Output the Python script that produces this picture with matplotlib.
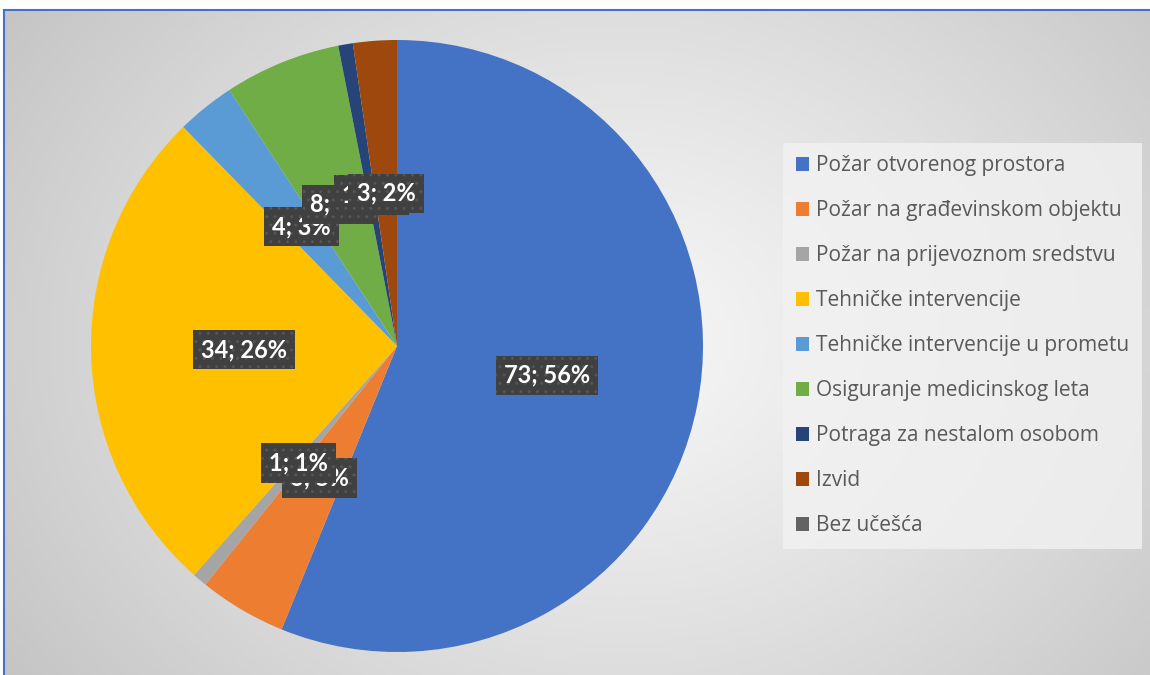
import numpy as np
import matplotlib
matplotlib.use("Agg")
import matplotlib.pyplot as plt
from matplotlib.patches import Patch
from matplotlib.lines import Line2D

categories = ["Požar otvorenog prostora", "Požar na građevinskom objektu",
              "Požar na prijevoznom sredstvu", "Tehničke intervencije",
              "Tehničke intervencije u prometu", "Osiguranje medicinskog leta",
              "Potraga za nestalom osobom", "Izvid", "Bez učešća"]
values = [73, 6, 1, 34, 4, 8, 1, 3, 0]
colors = ["#4472C4", "#ED7D31", "#A5A5A5", "#FFC000", "#5B9BD5",
          "#70AD47", "#264478", "#9E480E", "#636363"]

plt.rcParams['font.family'] = ['Lato', 'DejaVu Sans']

W, H = 1150, 675
fig = plt.figure(figsize=(W/100, H/100), dpi=100)
fig.patch.set_facecolor("white")

# background radial gradient
bg = fig.add_axes([4/W, 0, 1 - 4/W, (H - 10)/H])
bg.set_axis_off()
nx, ny = 300, 180
xs = np.linspace(4, W, nx)
ys = np.linspace(10, H, ny)
X, Y = np.meshgrid(xs, ys)
cx, cy = 620, 340
d = np.sqrt(((X - cx)/600)**2 + ((Y - cy)/480)**2)
d = np.clip(d, 0, 1.3)
val = 0.965 - 0.15*d**1.2
img = np.dstack([val, val, val])
bg.imshow(img, extent=[0, 1, 0, 1], aspect='auto', origin='upper')
bg.set_xlim(0, 1); bg.set_ylim(0, 1)

# border lines (top and left)
fig.add_artist(Line2D([4/W, 1], [1 - 10/H, 1 - 10/H], color="#4472C4", lw=1.5))
fig.add_artist(Line2D([4/W, 4/W], [0, 1 - 10/H], color="#4472C4", lw=1.5))

# pie
pcx, pcy, R = 397, 346, 306
ax = fig.add_axes([(pcx - R)/W, (H - pcy - R)/H, 2*R/W, 2*R/H])
ax.set_axis_off()
wedges, _ = ax.pie(values, colors=colors, startangle=90, counterclock=False,
                   radius=1, wedgeprops=dict(linewidth=0))
ax.set_xlim(-1, 1); ax.set_ylim(-1, 1)
ax.set_aspect('equal')

total = sum(values)
for w, v in zip(wedges, values):
    if v == 0:
        continue
    mid = np.deg2rad((w.theta1 + w.theta2)/2)
    x, y = 0.5*np.cos(mid), 0.5*np.sin(mid)
    ax.text(x, y, f"{v}; {round(100*v/total)}%", ha='center', va='center',
            color='white', fontsize=17, fontweight='bold',
            bbox=dict(boxstyle='square,pad=0.35', facecolor='#404040',
                      edgecolor='#555555', hatch='..', linewidth=0))

# legend
handles = [Patch(facecolor=c, edgecolor='none') for c in colors]
leg = fig.legend(handles, categories, loc='upper left',
                 bbox_to_anchor=(783/W, 1 - 143/H), borderaxespad=0,
                 prop={'family': ['Open Sans', 'DejaVu Sans'], 'size': 15},
                 frameon=True, fancybox=False, borderpad=0.6,
                 labelspacing=1.15, handlelength=0.65, handleheight=0.65,
                 handletextpad=0.35, labelcolor='#595959')
leg.get_frame().set_facecolor('#f2f2f2')
leg.get_frame().set_edgecolor('none')
leg.get_frame().set_alpha(0.8)

fig.savefig("out.png", dpi=100)
